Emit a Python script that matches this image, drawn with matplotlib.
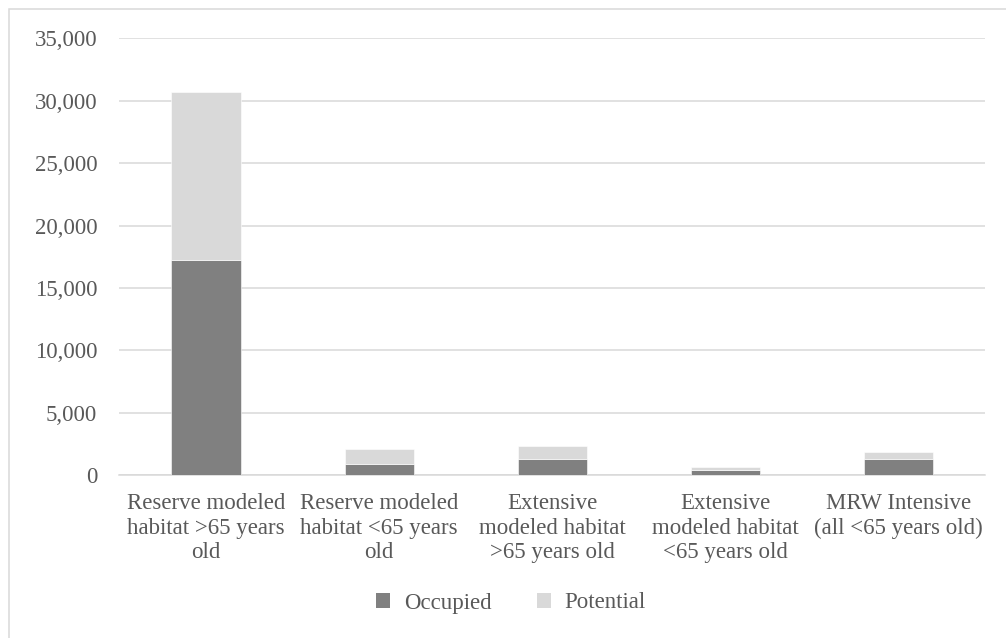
import matplotlib
matplotlib.use("Agg")
import matplotlib.pyplot as plt
from matplotlib.patches import Rectangle, Patch
from matplotlib.ticker import FuncFormatter, MultipleLocator

categories = [
    "Reserve modeled\nhabitat >65 years\nold",
    "Reserve modeled\nhabitat <65 years\nold",
    "Extensive\nmodeled habitat\n>65 years old",
    "Extensive\nmodeled habitat\n<65 years old",
    "MRW Intensive\n(all <65 years old)",
]
occupied = [17220, 880, 1330, 450, 1340]
potential = [13450, 1220, 1040, 210, 510]

series_names = ["Occupied", "Potential"]
colors = ["#808080", "#d9d9d9"]
text_color = "#595959"

plt.rcParams['font.family'] = ['Liberation Serif', 'DejaVu Serif']
FS = 16.5

fig = plt.figure(figsize=(10.06, 6.38), dpi=100)
W, H = 1006, 638
ax = fig.add_axes([119.4 / W, (H - 475.3) / H, (985.3 - 119.4) / W, (475.3 - 38.3) / H])

x = list(range(len(categories)))
ax.bar(x, occupied, width=0.4, color=colors[0], edgecolor="white", linewidth=0.4, zorder=3)
ax.bar(x, potential, bottom=occupied, width=0.4, color=colors[1], edgecolor="white", linewidth=0.4, zorder=3)

ax.set_xlim(-0.5, len(categories) - 0.5)
ax.set_ylim(0, 35000)
ax.yaxis.set_major_locator(MultipleLocator(5000))
ax.yaxis.set_major_formatter(FuncFormatter(lambda v, p: f"{int(v):,}"))
ax.grid(axis="y", color="#d9d9d9", linewidth=1.1, zorder=0)
ax.set_axisbelow(True)
for s in ["top", "right", "left"]:
    ax.spines[s].set_visible(False)
ax.spines["bottom"].set_color("#d9d9d9")
ax.spines["bottom"].set_linewidth(1.1)
ax.set_xticks(x)
ax.set_xticklabels(categories, fontsize=FS, color=text_color, linespacing=1.2)
ax.tick_params(axis="x", length=0, pad=13)
ax.tick_params(axis="y", length=0, pad=16, labelsize=FS, labelcolor=text_color)

handles = [Patch(facecolor=colors[0]), Patch(facecolor=colors[1])]
fig.legend(handles, series_names, loc="center", bbox_to_anchor=(511 / W, (H - 603) / H),
           ncol=2, frameon=False, fontsize=FS, labelcolor=text_color,
           handlelength=0.6, handleheight=0.6, handletextpad=0.6, columnspacing=2.0)

fig.patches.append(Rectangle((9 / W, -0.1), 1.2, (H - 9) / H + 0.1, transform=fig.transFigure,
                             fill=False, edgecolor="#d9d9d9", linewidth=1.1))

fig.savefig("out.png", dpi=100)
